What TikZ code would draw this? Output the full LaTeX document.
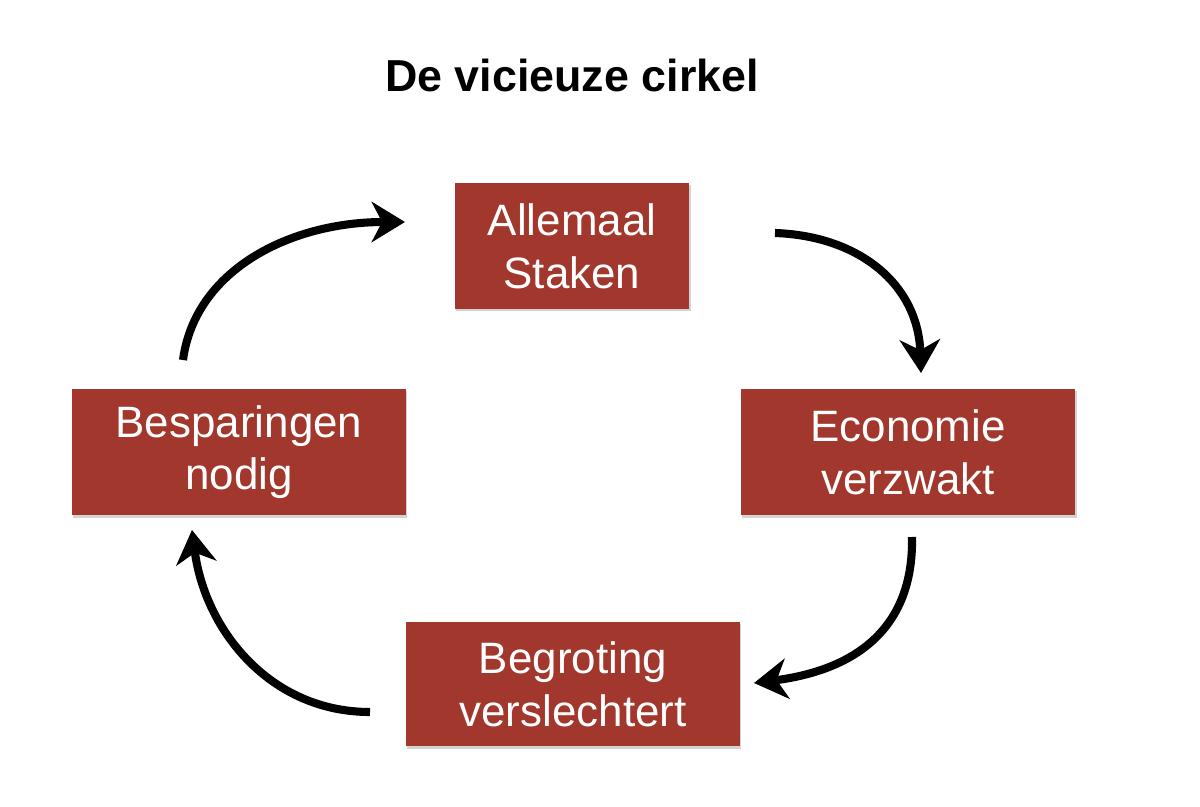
\documentclass[tikz,border=0pt]{standalone}
\usepackage{fontspec}
\setmainfont{Liberation Sans}
\usetikzlibrary{arrows.meta,shadows}
\definecolor{boxred}{HTML}{A2382D}
\tikzset{
  redbox/.style={fill=boxred, draw=none, text=white, align=center,
    font=\fontsize{25pt}{30pt}\selectfont, inner sep=0pt,
    drop shadow={opacity=0.35, shadow xshift=0.6pt, shadow yshift=-1.2pt}},
  cyc/.style={line width=4.6pt, -{Stealth[length=19pt,width=23pt,inset=6pt]}}
}
\begin{document}
\begin{tikzpicture}[x=0.02cm,y=-0.02cm]
\useasboundingbox (0,0) rectangle (1200,807);
\node[font=\bfseries\fontsize{25.5pt}{30pt}\selectfont, anchor=base] (title) at (572,92) {De vicieuze cirkel};
\node[redbox, minimum width=4.7cm, minimum height=2.52cm] (a) at (572,246) {Allemaal\\Staken};
\node[redbox, minimum width=6.7cm, minimum height=2.54cm] (e) at (908,452) {Economie\\verzwakt};
\node[redbox, minimum width=6.68cm, minimum height=2.5cm] (b) at (573,684) {Begroting\\verslechtert};
\node[redbox, minimum width=6.68cm, minimum height=2.54cm] (s) at (239,452) {Besparingen\\nodig};
% arrow ends
\coordinate (s1) at (183,360);
\coordinate (a1) at (405,222);
\coordinate (a2) at (775,233);
\coordinate (e1) at (921,373);
\coordinate (e2) at (912,537);
\coordinate (b1) at (754,683);
\coordinate (b2) at (370,712);
\coordinate (s2) at (192,530);
\draw[cyc] (s1) .. controls (195,270) and (290,222) .. (a1);
\draw[cyc] (a2) .. controls (860,236) and (918,285) .. (e1);
\draw[cyc] (e2) .. controls (914,640) and (840,672) .. (b1);
\draw[cyc] (b2) .. controls (270,712) and (205,630) .. (s2);
\end{tikzpicture}
\end{document}
